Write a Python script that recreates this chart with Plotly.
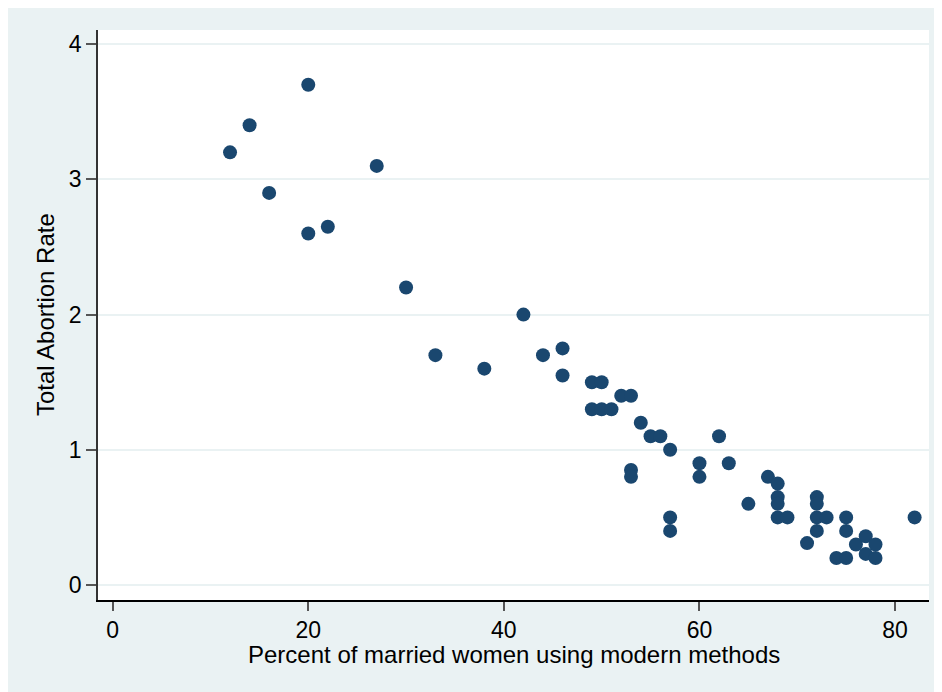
import plotly.graph_objects as go

# Percent of married women using modern methods
pct_modern = [12, 14, 16, 20, 20, 22, 27, 30, 33, 38, 42, 44, 46, 46,
              49, 50, 49, 50, 51, 52, 53, 54, 55, 56, 57, 53, 53, 57, 57,
              60, 60, 62, 63, 65, 67, 68, 68, 68, 68, 69, 72, 72, 72, 73,
              72, 71, 75, 75, 74, 75, 76, 77, 78, 77, 78, 82]
# Total abortion rate
tar = [3.2, 3.4, 2.9, 3.7, 2.6, 2.65, 3.1, 2.2, 1.7, 1.6, 2.0, 1.7, 1.75, 1.55,
       1.5, 1.5, 1.3, 1.3, 1.3, 1.4, 1.4, 1.2, 1.1, 1.1, 1.0, 0.85, 0.8, 0.5, 0.4,
       0.9, 0.8, 1.1, 0.9, 0.6, 0.8, 0.75, 0.65, 0.6, 0.5, 0.5, 0.65, 0.6, 0.5, 0.5,
       0.4, 0.31, 0.5, 0.4, 0.2, 0.2, 0.3, 0.36, 0.3, 0.23, 0.2, 0.5]

x_ticks = [0, 20, 40, 60, 80]
y_ticks = [0, 1, 2, 3, 4]
x_title = "Percent of married women using modern methods"
y_title = "Total Abortion Rate"

# page body has an 8px margin, so the figure is drawn 8px in from top/left
W, H = 934, 684
L, R, T, B = 90, 13, 22, 92

fig = go.Figure()
fig.add_trace(go.Scatter(
    x=pct_modern, y=tar, mode="markers",
    marker=dict(size=14, color="#1a476f", line=dict(width=0)),
    showlegend=False,
))

font = "Liberation Sans, Arial, sans-serif"
fig.update_layout(
    width=W, height=H,
    margin=dict(l=L, r=R, t=T, b=B, autoexpand=False),
    paper_bgcolor="#EAF2F3",
    plot_bgcolor="white",
    font=dict(family=font, size=23, color="black"),
    xaxis=dict(
        range=[-1.5, 83.47], tickvals=x_ticks, ticktext=[str(v) for v in x_ticks],
        showgrid=False, zeroline=False, automargin=False,
        showline=True, linecolor="black", linewidth=1.5,
        ticks="outside", ticklen=9, tickcolor="#555555", tickwidth=1.5,
        tickfont=dict(size=23),
    ),
    yaxis=dict(
        range=[-0.111, 4.105], tickvals=y_ticks, ticktext=[str(v) for v in y_ticks],
        showgrid=True, gridcolor="#EAF2F3", gridwidth=2, zeroline=False,
        automargin=False,
        showline=True, linecolor="#333333", linewidth=1.5,
        ticks="outside", ticklen=10, tickcolor="#555555", tickwidth=1.5,
        tickfont=dict(size=23),
    ),
    annotations=[
        dict(text=x_title, xref="paper", yref="paper", x=0.5, y=0,
             xanchor="center", yanchor="middle", yshift=-54,
             showarrow=False, font=dict(size=24)),
        dict(text=y_title, xref="paper", yref="paper", x=0, y=0.5,
             xanchor="center", yanchor="middle", xshift=-53, textangle=-90,
             showarrow=False, font=dict(size=24)),
    ],
)

fig.write_html("out.html")
